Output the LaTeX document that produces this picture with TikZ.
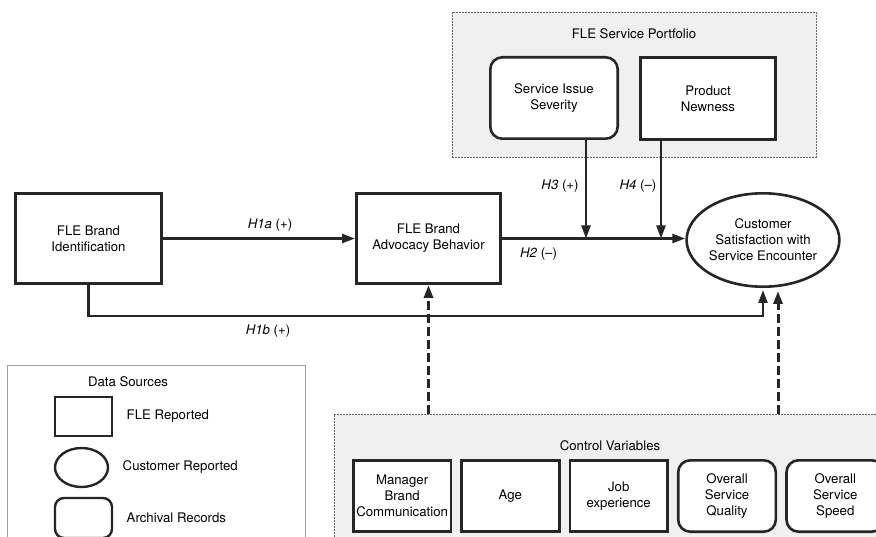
\documentclass[tikz,border=0pt]{standalone}
\usepackage{fontspec}
\setmainfont{TeX Gyre Heros}
\usetikzlibrary{shapes.geometric, arrows.meta, positioning, calc}

\begin{document}
\begin{tikzpicture}[
    x=1pt, y=-1pt,
    font=\fontsize{13.2pt}{16pt}\selectfont,
    box/.style={rectangle, draw=black!85, line width=2.6pt, fill=white,
                align=center, inner sep=2pt},
    rbox/.style={box, rounded corners=12pt},
    oval/.style={ellipse, draw=black!85, line width=2.6pt, fill=white,
                 align=center, inner sep=0pt},
    group/.style={rectangle, draw=gray!80!black, line width=0.7pt,
                  dash pattern=on 2pt off 1pt, fill=gray!12, anchor=north west},
    arr/.style={-{Triangle[length=13pt, width=9pt]}, line width=2.4pt, draw=black!85},
    dasharr/.style={arr, line width=3pt, dash pattern=on 9pt off 4pt},
    hyp/.style={inner sep=0pt},
]
\useasboundingbox (0,0) rectangle (876,537);
\clip (0,0) rectangle (876,537);

% Service portfolio group
\node[group, minimum width=364pt, minimum height=145pt] (portf) at (452,12) {};
\node (ptitle) at (634,34) {FLE Service Portfolio};
\node[rbox, minimum width=127.4pt, minimum height=81.4pt] (sev) at (554,98)
    {Service Issue\\Severity};
\node[box, minimum width=135.4pt, minimum height=82.4pt] (newn) at (708,98.5)
    {Product\\Newness};

% Main constructs
\node[box, minimum width=146.4pt, minimum height=90.4pt] (ident) at (88.5,238.5)
    {FLE Brand\\Identification};
\node[box, minimum width=144.4pt, minimum height=90.4pt] (advoc) at (428.5,238.5)
    {FLE Brand\\Advocacy Behavior};
\node[oval, minimum width=151.4pt, minimum height=93.4pt] (sat) at (763,240)
    {Customer\\Satisfaction with\\Service Encounter};

% Hypotheses
\draw[arr] (ident.east) -- (advoc.west);
\node[hyp] (h1alab) at (270,225) {\textit{H1a} (+)};
\draw[arr, shorten >=2pt] (ident.south) -- ++(0,31) -| (sat.south);
\node[hyp] (h1blab) at (268,331) {\textit{H1b} (+)};
\draw[arr] (advoc.east) -- (advoc.east -| sat.west);
\node[hyp] (h2lab) at (538.5,254) {\textit{H2} (\textendash)};

\coordinate (h3) at (586,238.5);
\coordinate (h4) at (661,238.5);
\draw[arr] (sev.south -| h3) -- (h3);
\draw[arr] (newn.south -| h4) -- (h4);
\node[hyp] (h3lab) at (560,186) {\textit{H3} (+)};
\node[hyp] (h4lab) at (638,186) {\textit{H4} (\textendash)};

% Control variables group
\node[group, minimum width=600pt, minimum height=200pt] (ctrl) at (334,414) {};
\node (ctitle) at (610,446) {Control Variables};
\node[box, minimum width=97.6pt, minimum height=71.4pt] (mgr) at (402.1,496)
    {Manager\\Brand\\Communication};
\node[box, minimum width=97.6pt, minimum height=71.4pt, right=8.1pt of mgr] (age) {Age};
\node[box, minimum width=97.6pt, minimum height=71.4pt, right=8.1pt of age] (job)
    {Job\\experience};
\node[rbox, minimum width=97.6pt, minimum height=71.4pt, right=8.1pt of job] (qual)
    {Overall\\Service\\Quality};
\node[rbox, minimum width=97.6pt, minimum height=71.4pt, right=8.1pt of qual] (speed)
    {Overall\\Service\\Speed};

\coordinate (dsat) at (778,291);
\draw[dasharr] (ctrl.north -| advoc.south) -- (advoc.south);
\draw[dasharr] (ctrl.north -| dsat) -- (dsat);

% Legend
\node[rectangle, draw=gray!75, line width=1pt, anchor=north west,
      minimum width=298pt, minimum height=200pt] (legend) at (7,365) {};
\node (ltitle) at (128,382) {Data Sources};
\node[box, line width=2.4pt, minimum width=57pt, minimum height=39pt] (lrect) at (83.5,416.5) {};
\node[oval, line width=2.4pt, minimum width=53pt, minimum height=39pt] (loval) at (81.5,467.5) {};
\node[rbox, line width=2.4pt, rounded corners=9pt, minimum width=57pt, minimum height=40pt]
    (lround) at (83.5,518) {};
\node[right=10pt of lrect] (lflel) {FLE Reported};
\node[right=10pt of loval] (lcusl) {Customer Reported};
\node[right=10pt of lround] (larcl) {Archival Records};

\end{tikzpicture}
\end{document}
